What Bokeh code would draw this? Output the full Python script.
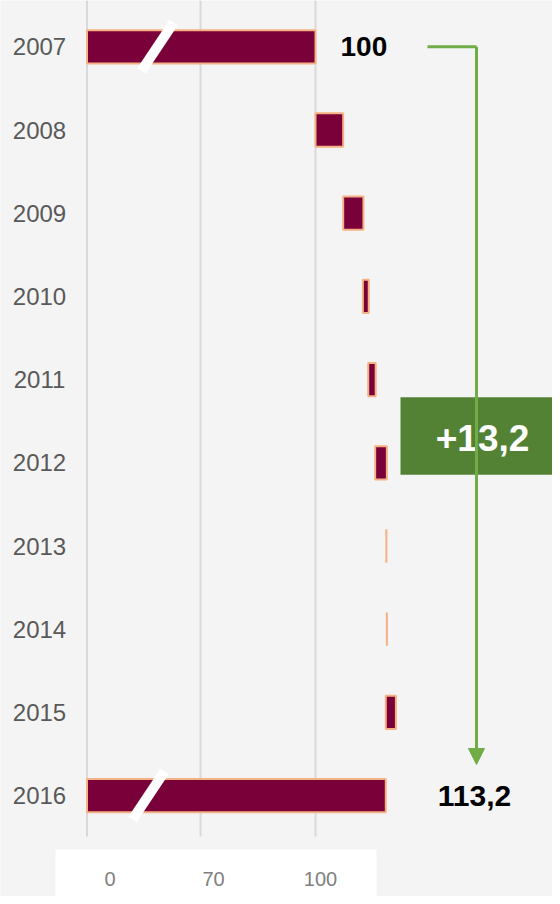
import numpy as np
from bokeh.plotting import figure
from bokeh.models import Range1d, Arrow, NormalHead, ColumnDataSource
from bokeh.core.properties import value
from bokeh.embed import file_html
from bokeh.resources import INLINE

# ---------------- data ----------------
years = ["2007", "2008", "2009", "2010", "2011", "2012", "2013", "2014", "2015", "2016"]
bar_start = [0, 100, 105.2, 108.9, 109.9, 111.2, 113.3, 113.4, 113.2, 0]
bar_end = [100, 105.2, 109.0, 110.0, 111.3, 113.4, 113.3, 113.4, 115.1, 113.2]
tick_values = [0, 70, 100]
tick_labels = ["0", "70", "100"]
total_rows = [0, 9]
total_values = [100, 113.2]
total_labels = ["100", "113,2"]
change_label = "+13,2"

# ---------------- styling ----------------
MAROON = "#7a0039"
SALMON = "#f4b183"
GREEN_LINE = "#70ad47"
GREEN_BOX = "#548235"
GRID = "#d9d9d9"
BG = "#f4f4f4"
FONT = value("Liberation Sans")

W, H = 552, 896
KX = 70.3 / 13.2          # pixels per unit beyond the break
KY = 83.2                 # pixels per row
X0 = 100 - 315 / KX
X1 = X0 + W / KX
Y_TOP = -46.3 / KY
Y_BOT = Y_TOP + H / KY


def px(xp):
    return X0 + xp / KX


def py(yp):
    return Y_TOP + yp / KY


# broken axis: values up to 100 are compressed
BREAK_IN = [0, 70, 100]
BREAK_OUT = [px(86.5), px(200), 100.0]


def disp(v):
    v = np.asarray(v, dtype=float)
    return np.where(v <= 100, np.interp(v, BREAK_IN, BREAK_OUT), v)


rows = list(range(len(years)))

p = figure(width=W, height=H, x_range=Range1d(X0, X1), y_range=Range1d(Y_BOT, Y_TOP),
           output_backend="svg", toolbar_location=None,
           x_axis_location=None, y_axis_location=None, min_border=0)
p.grid.visible = False
p.outline_line_color = None
p.background_fill_color = BG
p.border_fill_color = BG

# gridlines
gx = disp(tick_values)
p.segment(x0=gx, y0=[py(0)] * 3, x1=gx, y1=[py(836)] * 3, line_color=GRID, line_width=2)

# bars
src = ColumnDataSource(dict(y=rows, left=disp(bar_start), right=disp(bar_end)))
p.hbar(y="y", left="left", right="right", height=0.40, source=src,
       fill_color=MAROON, line_color=SALMON, line_width=2)

# axis break marks on total bars
break_x = [px(157), px(148)]
dxh = 16 / KX
dyh = 24 / KY
p.segment(x0=[b - dxh for b in break_x], y0=[r + dyh for r in total_rows],
          x1=[b + dxh for b in break_x], y1=[r - dyh for r in total_rows],
          line_color="white", line_width=10)

# year labels
p.text(x=[px(39)] * len(years), y=rows, text=years, text_align="center",
       text_baseline="middle", text_font=FONT, text_font_size=value("24px"),
       text_color="#595959")

# total value labels
p.text(x=disp(total_values), y=total_rows, text=total_labels, x_offset=[25, 52],
       text_align="left", text_baseline="middle", text_font=FONT,
       text_font_size=["28px", "30px"], text_font_style="bold", text_color="black")

# tick label box
p.quad(left=px(55), right=px(376), top=py(849), bottom=py(904),
       fill_color="white", line_color=None)
p.text(x=gx, y=[py(878)] * 3, text=tick_labels, x_offset=[23, 13, 5],
       text_align="center", text_baseline="middle", text_font=FONT,
       text_font_size=value("20px"), text_color="#808080")

# green bracket with arrow
bx = px(476)
p.line(x=[px(427), bx], y=[total_rows[0], total_rows[0]], line_color=GREEN_LINE, line_width=3)
p.add_layout(Arrow(end=NormalHead(size=16, fill_color=GREEN_LINE, line_color=GREEN_LINE),
                   x_start=bx, y_start=total_rows[0], x_end=bx, y_end=py(764),
                   line_color=GREEN_LINE, line_width=3))

# change box
p.quad(left=px(400), right=X1, top=py(396.7), bottom=py(474.3),
       fill_color=GREEN_BOX, line_color=None)
p.text(x=[px(482)], y=[py(437.5)], text=[change_label], text_align="center",
       text_baseline="middle", text_font=FONT, text_font_size=value("37px"),
       text_font_style="bold", text_color="white")

open("out.html", "w").write(file_html(p, INLINE))
